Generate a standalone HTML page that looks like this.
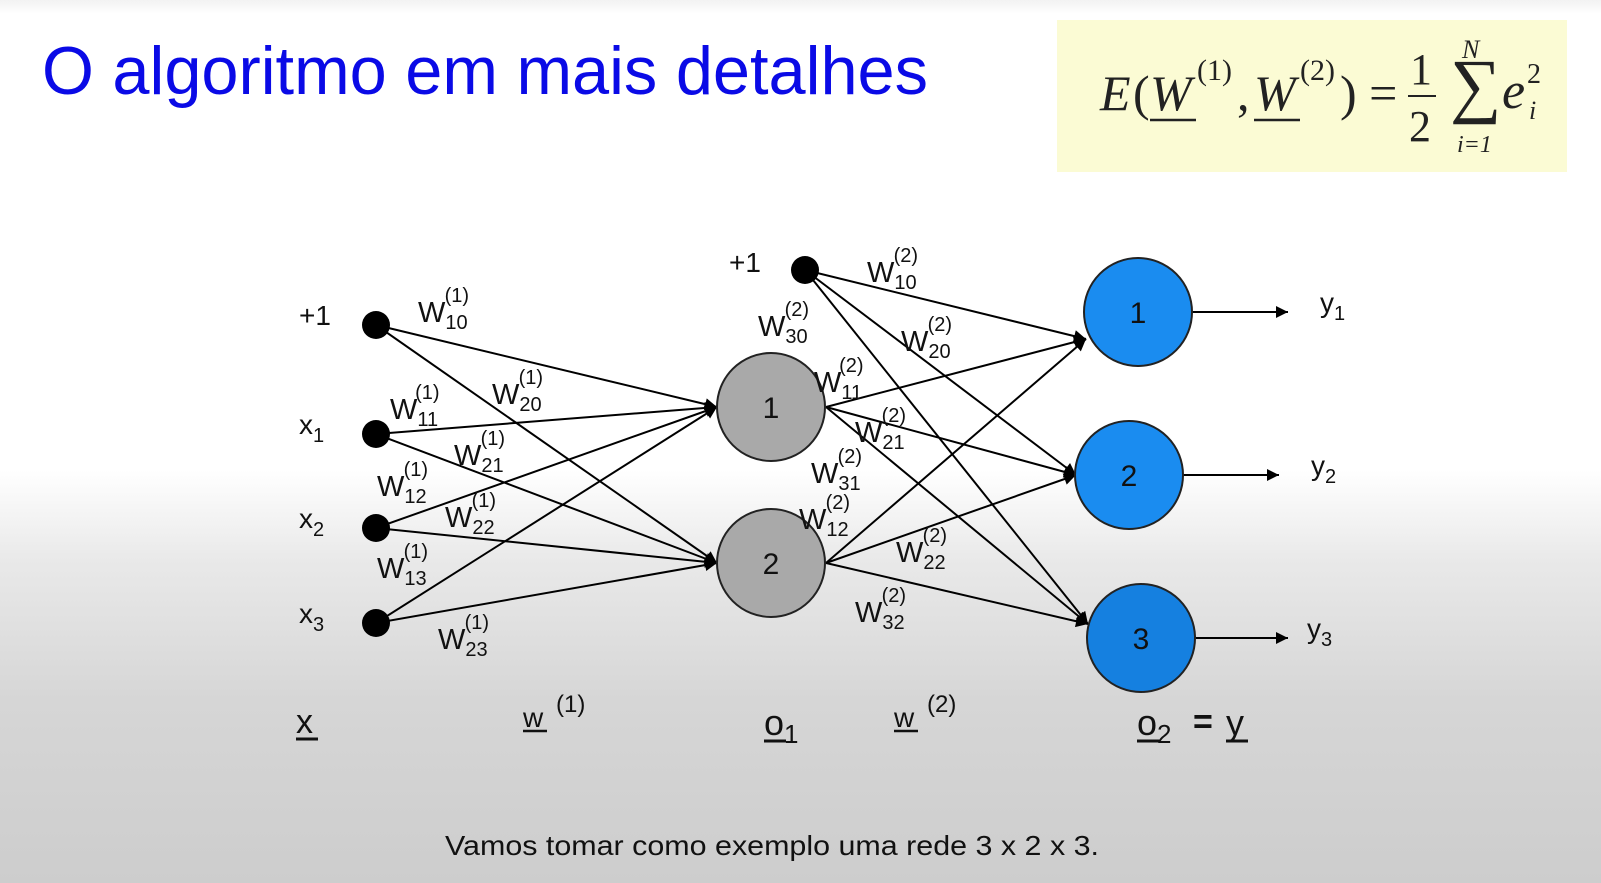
<!DOCTYPE html>
<html><head><meta charset="utf-8"><style>
html,body{margin:0;padding:0;width:1601px;height:883px;overflow:hidden}
body{background:linear-gradient(to bottom,#f2f2f2 0px,#fff 14px,#fff 470px,#e9e9e9 560px,#d6d6d6 700px,#cdcdcd 883px)}
</style></head><body>
<svg width="1601" height="883" viewBox="0 0 1601 883" xmlns="http://www.w3.org/2000/svg" style="position:absolute;left:0;top:0">
<defs>
<marker id="ah" viewBox="0 0 10 10" refX="10" refY="5" markerWidth="14" markerHeight="12" markerUnits="userSpaceOnUse" orient="auto">
<path d="M0,0 L10,5 L0,10 z" fill="#000"/></marker>
</defs>
<text x="42" y="94" font-family="Liberation Sans, sans-serif" font-size="68" fill="#0a0ae6" textLength="886" lengthAdjust="spacingAndGlyphs">O algoritmo em mais detalhes</text>

<rect x="1057" y="20" width="510" height="152" fill="#fbfbd4"/>
<g font-family="Liberation Serif, serif" fill="#222">
<text x="1100" y="110" font-size="50" font-style="italic">E</text>
<text x="1133" y="110" font-size="50">(</text>
<text x="1150" y="110" font-size="50" font-style="italic">W</text>
<line x1="1150" y1="120" x2="1196" y2="120" stroke="#222" stroke-width="2.5"/>
<text x="1197" y="80" font-size="30">(1)</text>
<text x="1237" y="110" font-size="50">,</text>
<text x="1254" y="110" font-size="50" font-style="italic">W</text>
<line x1="1254" y1="120" x2="1300" y2="120" stroke="#222" stroke-width="2.5"/>
<text x="1300" y="80" font-size="30">(2)</text>
<text x="1340" y="110" font-size="50">) =</text>
<text x="1410" y="84" font-size="44">1</text>
<line x1="1408" y1="96" x2="1436" y2="96" stroke="#222" stroke-width="2"/>
<text x="1409" y="141" font-size="44">2</text>
<text x="1450" y="109" font-size="72">∑</text>
<text x="1462" y="58" font-size="26" font-style="italic">N</text>
<text x="1457" y="152" font-size="24" font-style="italic">i=1</text>
<text x="1502" y="108" font-size="52" font-style="italic">e</text>
<text x="1527" y="83" font-size="28">2</text>
<text x="1529" y="119" font-size="26" font-style="italic">i</text>
</g>

<g stroke="#000" stroke-width="2" marker-end="url(#ah)">
<line x1="376" y1="325" x2="717" y2="407"/>
<line x1="376" y1="325" x2="717" y2="563"/>
<line x1="376" y1="434" x2="717" y2="407"/>
<line x1="376" y1="434" x2="717" y2="563"/>
<line x1="376" y1="528" x2="717" y2="407"/>
<line x1="376" y1="528" x2="717" y2="563"/>
<line x1="376" y1="623" x2="717" y2="407"/>
<line x1="376" y1="623" x2="717" y2="563"/>
<line x1="805" y1="270" x2="1086" y2="339"/>
<line x1="805" y1="270" x2="1076" y2="475"/>
<line x1="805" y1="270" x2="1088" y2="624"/>
<line x1="826" y1="407" x2="1086" y2="339"/>
<line x1="826" y1="407" x2="1076" y2="475"/>
<line x1="826" y1="407" x2="1088" y2="624"/>
<line x1="826" y1="563" x2="1086" y2="339"/>
<line x1="826" y1="563" x2="1076" y2="475"/>
<line x1="826" y1="563" x2="1088" y2="624"/>
<line x1="1192" y1="312" x2="1288" y2="312"/>
<line x1="1183" y1="475" x2="1279" y2="475"/>
<line x1="1196" y1="638" x2="1288" y2="638"/>
</g>

<g fill="#000">
<circle cx="376" cy="325" r="14"/><circle cx="376" cy="434" r="14"/>
<circle cx="376" cy="528" r="14"/><circle cx="376" cy="623" r="14"/>
<circle cx="805" cy="270" r="14"/>
</g>
<g stroke="#222" stroke-width="2">
<circle cx="771" cy="407" r="54" fill="#a9a9a9"/>
<circle cx="771" cy="563" r="54" fill="#a9a9a9"/>
<circle cx="1138" cy="312" r="54" fill="#1a8cf0"/>
<circle cx="1129" cy="475" r="54" fill="#1a8cf0"/>
<circle cx="1141" cy="638" r="54" fill="#1580e0"/>
</g>
<g font-family="Liberation Sans, sans-serif" font-size="30" fill="#111" text-anchor="middle">
<text x="771" y="418">1</text><text x="771" y="574">2</text>
<text x="1138" y="323">1</text><text x="1129" y="486">2</text><text x="1141" y="649">3</text>
</g>
<g font-family="Liberation Sans, sans-serif" font-size="28" fill="#111">
<text x="299" y="325">+1</text>
<text x="729" y="272">+1</text>
<text x="299" y="434">x<tspan font-size="20" dy="8">1</tspan></text>
<text x="299" y="528">x<tspan font-size="20" dy="8">2</tspan></text>
<text x="299" y="623">x<tspan font-size="20" dy="8">3</tspan></text>
<text x="1320" y="312">y<tspan font-size="20" dy="8">1</tspan></text>
<text x="1311" y="475">y<tspan font-size="20" dy="8">2</tspan></text>
<text x="1307" y="638">y<tspan font-size="20" dy="8">3</tspan></text>
</g>
<g font-family="Liberation Sans, sans-serif" font-size="29" fill="#111">
<text x="418" y="322">W<tspan font-size="20" dy="7">10</tspan><tspan font-size="20" dx="-23" dy="-27">(1)</tspan></text>
<text x="492" y="404">W<tspan font-size="20" dy="7">20</tspan><tspan font-size="20" dx="-23" dy="-27">(1)</tspan></text>
<text x="390" y="419">W<tspan font-size="20" dy="7">11</tspan><tspan font-size="20" dx="-23" dy="-27">(1)</tspan></text>
<text x="454" y="465">W<tspan font-size="20" dy="7">21</tspan><tspan font-size="20" dx="-23" dy="-27">(1)</tspan></text>
<text x="377" y="496">W<tspan font-size="20" dy="7">12</tspan><tspan font-size="20" dx="-23" dy="-27">(1)</tspan></text>
<text x="445" y="527">W<tspan font-size="20" dy="7">22</tspan><tspan font-size="20" dx="-23" dy="-27">(1)</tspan></text>
<text x="377" y="578">W<tspan font-size="20" dy="7">13</tspan><tspan font-size="20" dx="-23" dy="-27">(1)</tspan></text>
<text x="438" y="649">W<tspan font-size="20" dy="7">23</tspan><tspan font-size="20" dx="-23" dy="-27">(1)</tspan></text>
<text x="867" y="282">W<tspan font-size="20" dy="7">10</tspan><tspan font-size="20" dx="-23" dy="-27">(2)</tspan></text>
<text x="758" y="336">W<tspan font-size="20" dy="7">30</tspan><tspan font-size="20" dx="-23" dy="-27">(2)</tspan></text>
<text x="901" y="351">W<tspan font-size="20" dy="7">20</tspan><tspan font-size="20" dx="-23" dy="-27">(2)</tspan></text>
<text x="814" y="392">W<tspan font-size="20" dy="7">11</tspan><tspan font-size="20" dx="-23" dy="-27">(2)</tspan></text>
<text x="855" y="442">W<tspan font-size="20" dy="7">21</tspan><tspan font-size="20" dx="-23" dy="-27">(2)</tspan></text>
<text x="811" y="483">W<tspan font-size="20" dy="7">31</tspan><tspan font-size="20" dx="-23" dy="-27">(2)</tspan></text>
<text x="799" y="529">W<tspan font-size="20" dy="7">12</tspan><tspan font-size="20" dx="-23" dy="-27">(2)</tspan></text>
<text x="896" y="562">W<tspan font-size="20" dy="7">22</tspan><tspan font-size="20" dx="-23" dy="-27">(2)</tspan></text>
<text x="855" y="622">W<tspan font-size="20" dy="7">32</tspan><tspan font-size="20" dx="-23" dy="-27">(2)</tspan></text>
</g>
<g font-family="Liberation Sans, sans-serif" fill="#111">
<text x="296" y="733" font-size="34">x</text><line x1="296" y1="739" x2="318" y2="739" stroke="#111" stroke-width="3"/>
<text x="523" y="727" font-size="28">w</text><line x1="523" y1="731" x2="547" y2="731" stroke="#111" stroke-width="2.5"/>
<text x="556" y="712" font-size="24">(1)</text>
<text x="764" y="735" font-size="36">o<tspan font-size="26" dy="8">1</tspan></text><line x1="764" y1="741" x2="786" y2="741" stroke="#111" stroke-width="3"/>
<text x="894" y="727" font-size="28">w</text><line x1="894" y1="731" x2="918" y2="731" stroke="#111" stroke-width="2.5"/>
<text x="927" y="712" font-size="24">(2)</text>
<text x="1137" y="735" font-size="36">o<tspan font-size="26" dy="8">2</tspan></text><line x1="1137" y1="741" x2="1159" y2="741" stroke="#111" stroke-width="3"/>
<text x="1193" y="733" font-size="34" font-weight="bold">=</text>
<text x="1226" y="735" font-size="36">y</text><line x1="1226" y1="741" x2="1248" y2="741" stroke="#111" stroke-width="3"/>
<text x="445" y="855" font-size="28" textLength="654" lengthAdjust="spacingAndGlyphs">Vamos tomar como exemplo uma rede 3 x 2 x 3.</text>
</g>
</svg>
</body></html>
